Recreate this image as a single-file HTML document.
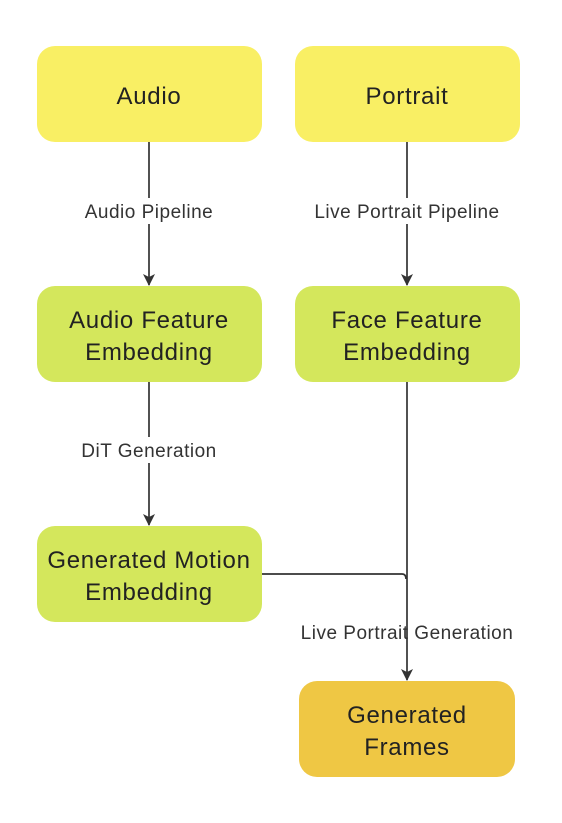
<!DOCTYPE html>
<html><head><meta charset="utf-8"><style>
body{margin:0;background:#fff;}
svg text{font-family:"Liberation Sans",sans-serif;}
</style></head><body>
<svg width="562" height="818" viewBox="0 0 562 818" xmlns="http://www.w3.org/2000/svg">
<defs>
<marker id="b" viewBox="0 0 12 12" markerWidth="12" markerHeight="12" refX="11" refY="6" orient="auto" markerUnits="userSpaceOnUse"><path d="M0,0 L12,6 L0,12 L3,6 Z" fill="#333"/></marker></defs>
<g stroke="#333" stroke-width="1.7" fill="none">
<line x1="149" y1="142" x2="149" y2="285" marker-end="url(#b)"/>
<line x1="407" y1="142" x2="407" y2="285" marker-end="url(#b)"/>
<line x1="149" y1="382" x2="149" y2="525" marker-end="url(#b)"/>
<line x1="407" y1="382" x2="407" y2="680" marker-end="url(#b)"/>
<path d="M262,574 L402,574 Q406,574 406,579"/>
</g>
<g fill="#fff"><rect x="74" y="198" width="150" height="26"/><rect x="304" y="198" width="206" height="26"/><rect x="72" y="437" width="154" height="26"/></g>
<g font-size="19" fill="#333" text-anchor="middle" letter-spacing="0.5">
<text x="149" y="218">Audio Pipeline</text>
<text x="407" y="218">Live Portrait Pipeline</text>
<text x="149" y="457">DiT Generation</text>
<text x="407" y="639">Live Portrait Generation</text>
</g>
<rect x="37" y="46" width="225" height="96" rx="18" fill="#f9ef64"/>
<rect x="295" y="46" width="225" height="96" rx="18" fill="#f9ef64"/>
<rect x="37" y="286" width="225" height="96" rx="18" fill="#d4e75c"/>
<rect x="295" y="286" width="225" height="96" rx="18" fill="#d4e75c"/>
<rect x="37" y="526" width="225" height="96" rx="18" fill="#d4e75c"/>
<rect x="299" y="681" width="216" height="96" rx="18" fill="#efc744"/>
<g font-size="24" fill="#222" text-anchor="middle" letter-spacing="0.7">
<text x="149" y="104">Audio</text>
<text x="407" y="104">Portrait</text>
<text x="149" y="328">Audio Feature</text><text x="149" y="360">Embedding</text>
<text x="407" y="328">Face Feature</text><text x="407" y="360">Embedding</text>
<text x="149" y="568">Generated Motion</text><text x="149" y="600">Embedding</text>
<text x="407" y="723">Generated</text><text x="407" y="755">Frames</text>
</g>
</svg>
</body></html>
